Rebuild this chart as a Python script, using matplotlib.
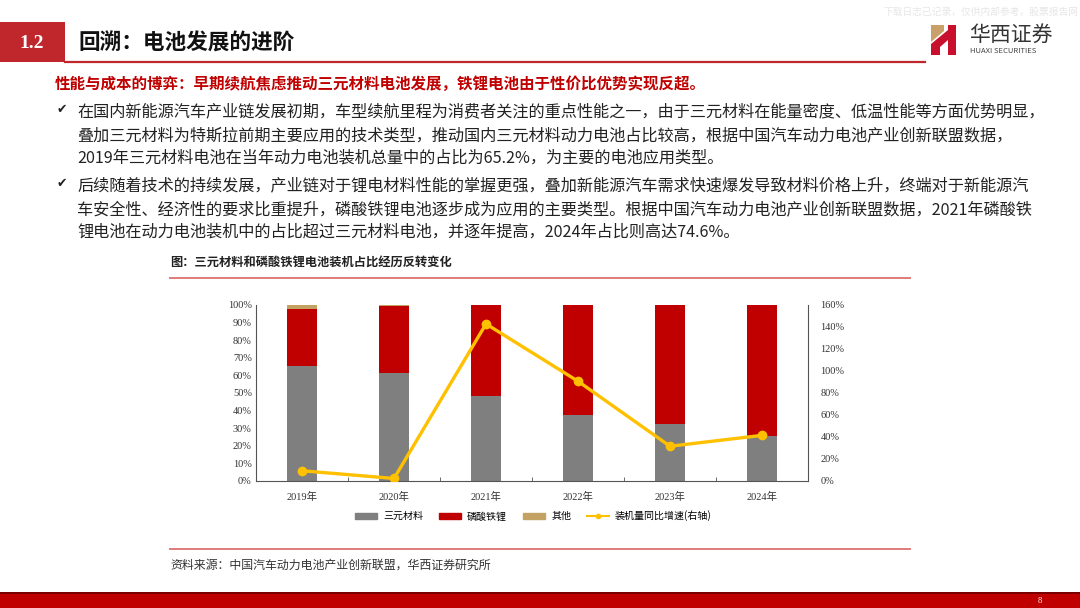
import matplotlib
matplotlib.use('Agg')
import matplotlib.pyplot as plt
from matplotlib.patches import Rectangle, Polygon
from matplotlib.lines import Line2D
from matplotlib.ticker import MultipleLocator, FuncFormatter
import numpy as np

plt.rcParams['font.family'] = ['Noto Sans CJK SC', 'DejaVu Sans']

# 数据
years = ['2019年', '2020年', '2021年', '2022年', '2023年', '2024年']
ncm = [65.2, 61.1, 48.1, 37.5, 32.6, 25.3]        # 三元材料 %
lfp = [32.3, 38.3, 51.7, 62.4, 67.3, 74.6]        # 磷酸铁锂 %
other = [2.5, 0.6, 0.2, 0.1, 0.1, 0.1]            # 其他 %
growth = [9.3, 2.3, 142.8, 90.7, 31.6, 41.5]      # 装机量同比增速 %

legend_labels = ['三元材料', '磷酸铁锂', '其他', '装机量同比增速(右轴)']

title = '回溯：电池发展的进阶'
subtitle = '性能与成本的博弈：早期续航焦虑推动三元材料电池发展，铁锂电池由于性价比优势实现反超。'
body = [
    ['在国内新能源汽车产业链发展初期，车型续航里程为消费者关注的重点性能之一，由于三元材料在能量密度、低温性能等方面优势明显，',
     '叠加三元材料为特斯拉前期主要应用的技术类型，推动国内三元材料动力电池占比较高，根据中国汽车动力电池产业创新联盟数据，',
     '2019年三元材料电池在当年动力电池装机总量中的占比为65.2%，为主要的电池应用类型。'],
    ['后续随着技术的持续发展，产业链对于锂电材料性能的掌握更强，叠加新能源汽车需求快速爆发导致材料价格上升，终端对于新能源汽',
     '车安全性、经济性的要求比重提升，磷酸铁锂电池逐步成为应用的主要类型。根据中国汽车动力电池产业创新联盟数据，2021年磷酸铁',
     '锂电池在动力电池装机中的占比超过三元材料电池，并逐年提高，2024年占比则高达74.6%。'],
]
chart_title = '图：三元材料和磷酸铁锂电池装机占比经历反转变化'
source = '资料来源：中国汽车动力电池产业创新联盟，华西证券研究所'

RED = '#c00000'
GRAY = '#7f7f7f'
TAN = '#c4a264'
YEL = '#ffc000'

W, H = 1080, 608
fig = plt.figure(figsize=(W / 100, H / 100), dpi=100)
fig.patch.set_facecolor('white')

# 整页画布（像素坐标）
bg = fig.add_axes([0, 0, 1, 1])
bg.set_xlim(0, W)
bg.set_ylim(H, 0)
bg.axis('off')

# 页眉
bg.add_patch(Rectangle((0, 22), 65, 40, color='#c0272d', lw=0))
bg.text(32, 43, '1.2', color='white', fontsize=14, fontweight='bold',
        family=['Liberation Serif'], ha='center', va='center')
bg.plot([65, 925], [62, 62], color='#c0272d', lw=1.6)
bg.text(78, 43, title, fontsize=15.6, fontweight='bold', ha='left', va='center', color='#111111')
bg.text(1078, 12, '下载日志已记录，仅供内部参考，股票报告网', fontsize=7, color='#e6e6e6',
        ha='right', va='center')

# 标志
bg.add_patch(Polygon([[931, 25], [944, 25], [944, 31], [931, 42]], closed=True, color='#c9a06a', lw=0))
bg.add_patch(Polygon([[931, 44], [948, 30], [948, 40], [940, 47], [940, 55], [931, 55]],
                     closed=True, color='#c8102e', lw=0))
bg.add_patch(Rectangle((948, 25), 8, 30, color='#c8102e', lw=0))
bg.text(969, 35, '华西证券', fontsize=15, color='#333333', ha='left', va='center')
bg.text(970, 51, 'HUAXI SECURITIES', fontsize=5.5, color='#444444', ha='left', va='center')

# 副标题与正文
bg.text(55, 84, subtitle, fontsize=11.2, fontweight='bold', color=RED, ha='left', va='center')
line_y = [[112, 136, 158], [186, 210, 232]]
for para, ys in zip(body, line_y):
    bg.text(57, ys[0] - 3, '✔', fontsize=9, family=['DejaVu Sans'], ha='left', va='center', color='#222222')
    for txt, y in zip(para, ys):
        bg.text(77, y, txt, fontsize=11.65, ha='left', va='center', color='#222222')

# 图标题与来源
bg.text(170, 262, chart_title, fontsize=8.8, fontweight='bold', ha='left', va='center', color='#222222')
bg.plot([170, 910], [278, 278], color='#e07a7a', lw=1.4)
bg.plot([170, 910], [549, 549], color='#e07a7a', lw=1.4)
bg.text(170, 565, source, fontsize=8.6, ha='left', va='center', color='#333333')

# 页脚
bg.add_patch(Rectangle((0, 592), W, 16, color=RED, lw=0))
bg.add_patch(Rectangle((0, 592), W, 2, color='#7a0000', lw=0))
bg.text(1040, 601, '8', fontsize=6, color='white', family=['Liberation Serif'], ha='center', va='center')

# 图表
ax = fig.add_axes([256 / W, 1 - 481 / H, 552 / W, 176 / H])
x = np.arange(len(years))
bw = 0.32
ax.bar(x, ncm, bw, color=GRAY, label=legend_labels[0], zorder=2)
ax.bar(x, lfp, bw, bottom=ncm, color=RED, label=legend_labels[1], zorder=2)
ax.bar(x, other, bw, bottom=np.array(ncm) + np.array(lfp), color=TAN, label=legend_labels[2], zorder=2)
ax.set_xlim(-0.5, len(years) - 0.5)
ax.set_ylim(0, 100)
ax.yaxis.set_major_locator(MultipleLocator(10))
ax.yaxis.set_major_formatter(FuncFormatter(lambda v, p: f'{v:.0f}%'))
ax.set_xticks(x)
ax.set_xticklabels(years)
ax.set_xticks(np.arange(0.5, len(years) - 0.5, 1), minor=True)
ax.tick_params(axis='x', which='major', length=0, pad=8)
ax.tick_params(axis='x', which='minor', length=3, direction='in', color='#555555')
ax.tick_params(axis='y', length=0, pad=3)
for lab in ax.get_xticklabels() + ax.get_yticklabels():
    lab.set_fontfamily(['Liberation Serif', 'Noto Sans CJK SC'])
    lab.set_fontsize(7.5)
    lab.set_color('#333333')
for s in ['top', 'right']:
    ax.spines[s].set_visible(False)
ax.spines['left'].set_color('#555555')
ax.spines['bottom'].set_color('#555555')

ax2 = ax.twinx()
ax2.plot(x, growth, color=YEL, lw=2.4, marker='o', markersize=6, label=legend_labels[3], zorder=3)
ax2.set_ylim(0, 160)
ax2.yaxis.set_major_locator(MultipleLocator(20))
ax2.yaxis.set_major_formatter(FuncFormatter(lambda v, p: f'{v:.0f}%'))
ax2.tick_params(axis='y', length=0, pad=9)
for lab in ax2.get_yticklabels():
    lab.set_fontfamily(['Liberation Serif'])
    lab.set_fontsize(7.5)
    lab.set_color('#333333')
for s in ['top', 'left', 'bottom']:
    ax2.spines[s].set_visible(False)
ax2.spines['right'].set_color('#555555')

handles = [Rectangle((0, 0), 1, 1, color=GRAY), Rectangle((0, 0), 1, 1, color=RED),
           Rectangle((0, 0), 1, 1, color=TAN),
           Line2D([0], [0], color=YEL, lw=1.5, marker='o', markersize=3)]
fig.legend(handles, legend_labels, loc='center', bbox_to_anchor=(0.494, 1 - 516 / H), ncol=4,
           frameon=False, fontsize=7.2, handlelength=2.2, handleheight=0.5, columnspacing=1.6,
           handletextpad=0.6)

fig.savefig('out.png', dpi=100)
